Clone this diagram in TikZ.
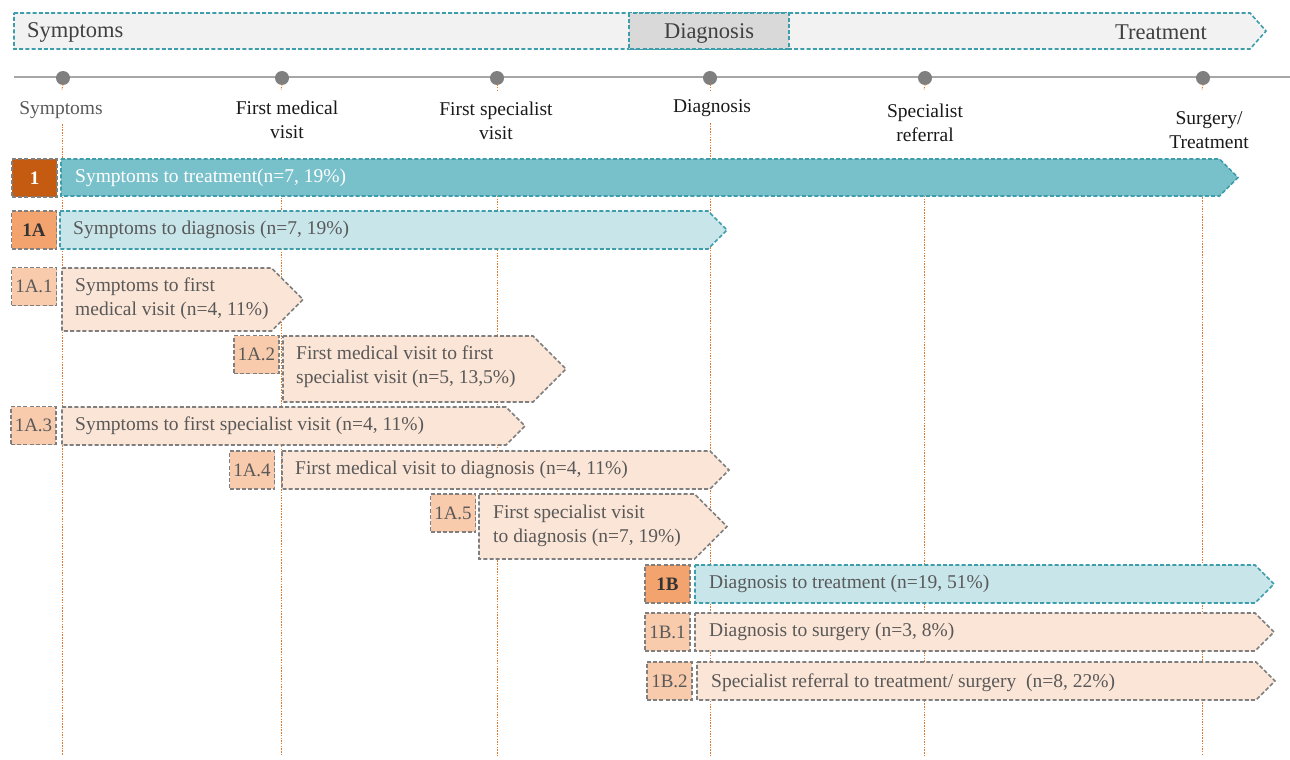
\documentclass[tikz,border=0pt]{standalone}
\usepackage{fontspec}
\setmainfont{Liberation Serif}
\definecolor{teal1}{HTML}{3E9DAA}
\definecolor{tealfill}{HTML}{78C0CA}
\definecolor{tealpale}{HTML}{C8E5EA}
\definecolor{orgdark}{HTML}{C55A11}
\definecolor{orgmid}{HTML}{F3A46E}
\definecolor{orglight}{HTML}{F8CBAD}
\definecolor{orgpale}{HTML}{FBE5D6}
\definecolor{vline}{HTML}{E07A2E}
\definecolor{txtgray}{HTML}{595959}
\definecolor{dotgray}{HTML}{7F7F7F}
\newcommand\chevbar[5]{%
  \path[#1] (#2,#3) -- ({#4-(#5-#3)/2},#3) -- (#4,{(#3+#5)/2}) -- ({#4-(#5-#3)/2},#5) -- (#2,#5) -- cycle;}
\tikzset{
  dsh/.style={dash pattern=on 4pt off 2.2pt, line width=1.6pt},
  tealbar/.style={dsh, draw=teal1, fill=tealfill},
  palebar/.style={dsh, draw=teal1, fill=tealpale},
  orgbar/.style={dsh, draw=dotgray, fill=orgpale},
  lbl/.style={dsh, draw=dotgray, fill=orglight, minimum width=45pt, minimum height=38pt,
    inner sep=0pt, font=\fontsize{19}{22}\selectfont, text=txtgray},
  lblmid/.style={lbl, fill=orgmid, font=\fontsize{19}{22}\selectfont\bfseries, text=black!80},
  lbldark/.style={lbl, fill=orgdark, font=\fontsize{19}{22}\selectfont\bfseries, text=white},
  rowtxt/.style={anchor=west, align=left, inner sep=0pt, font=\fontsize{19.5}{24}\selectfont, text=txtgray},
  axlbl/.style={align=center, inner sep=1pt, font=\fontsize{19.5}{23.5}\selectfont, text=black!90},
  bantxt/.style={inner sep=0pt, font=\rmfamily\fontsize{22.5}{26}\selectfont, text=black!75},
  dot/.style={circle, fill=dotgray, minimum size=14pt, inner sep=0pt},
  vl/.style={vline, line width=1pt, dash pattern=on 1.5pt off 1.2pt},
}
\begin{document}
\begin{tikzpicture}[x=1pt,y=-1pt]
\useasboundingbox (0,0) rectangle (1290,760);
% banner
\path[dsh, draw=teal1, fill=black!5] (14,13) -- (1250,13) -- (1266,31) -- (1250,49) -- (14,49) -- cycle;
\path[dsh, draw=teal1, fill=black!15] (629,13) rectangle (789,49);
\node[bantxt, anchor=west] (bSym) at (27,32) {Symptoms};
\node[bantxt] (bDia) at (709,33) {Diagnosis};
\node[bantxt] (bTre) at (1161,32) {Treatment};
% timeline
\coordinate (tlA) at (14,77);
\coordinate (tlB) at (1290,77);
\draw[black!35, line width=1.3pt] (tlA) -- (tlB);
\foreach \n/\x in {d1/63,d2/282,d3/497,d4/710,d5/925,d6/1203}{\node[dot] (\n) at (\x,78) {};}
% axis labels
\node[axlbl, text=txtgray] (a1) at (61,110) {Symptoms};
\node[axlbl] (a2) at (287,120) {First medical\\visit};
\node[axlbl] (a3) at (496,121) {First specialist\\visit};
\node[axlbl] (a4) at (712,108) {Diagnosis};
\node[axlbl] (a5) at (925,123) {Specialist\\referral};
\node[axlbl] (a6) at (1209,130) {Surgery/\\Treatment};
% vertical dotted lines
\foreach \x/\d/\a/\ys in {62/d1/a1/124,281/d2/a2/157,497/d3/a3/158,710/d4/a4/123,924/d5/a5/158,1202/d6/a6/165}{
  \coordinate (t\d) at (\x,90);
  \coordinate (s\a) at (\x,\ys);
  \coordinate (e\a) at (\x,755);
  \draw[vl] (\d.south) ++(0,-1) -- (t\d);
  \draw[vl] (s\a) -- (e\a);
}
% row 1
\node[lbldark] (l1) at (34.5,178) {1};
\chevbar{tealbar}{61}{159}{1238}{196}
\node[rowtxt, text=white] (r1) at (75,178) {Symptoms to treatment(n=7, 19\%)};
% row 1A
\node[lblmid] (l1A) at (34,230) {1A};
\chevbar{palebar}{60}{211}{727}{249}
\node[rowtxt] (r1A) at (73,230) {Symptoms to diagnosis (n=7, 19\%)};
% row 1A.1
\node[lbl] (l1A1) at (34,286.5) {1A.1};
\chevbar{orgbar}{62}{268}{303}{331}
\node[rowtxt] (r1A1) at (75,299) {Symptoms to first\\medical visit (n=4, 11\%)};
% row 1A.2
\node[lbl] (l1A2) at (256.5,354.5) {1A.2};
\chevbar{orgbar}{283}{336}{566}{402}
\node[rowtxt] (r1A2) at (296,367) {First medical visit to first\\specialist visit (n=5, 13,5\%)};
% row 1A.3
\node[lbl] (l1A3) at (33.5,425.5) {1A.3};
\chevbar{orgbar}{62}{407}{525}{445}
\node[rowtxt] (r1A3) at (75,426) {Symptoms to first specialist visit (n=4, 11\%)};
% row 1A.4
\node[lbl] (l1A4) at (252,470) {1A.4};
\chevbar{orgbar}{282}{451}{729}{489}
\node[rowtxt] (r1A4) at (295,470) {First medical visit to diagnosis (n=4, 11\%)};
% row 1A.5
\node[lbl] (l1A5) at (453,513) {1A.5};
\chevbar{orgbar}{479}{494}{727}{559}
\node[rowtxt] (r1A5) at (493,526) {First specialist visit\\to diagnosis (n=7, 19\%)};
% row 1B
\node[lblmid] (l1B) at (667.5,584) {1B};
\chevbar{palebar}{695}{565}{1274}{603}
\node[rowtxt] (r1B) at (709,584) {Diagnosis to treatment (n=19, 51\%)};
% row 1B.1
\node[lbl] (l1B1) at (667.5,632) {1B.1};
\chevbar{orgbar}{695}{613}{1274}{651}
\node[rowtxt] (r1B1) at (709,632) {Diagnosis to surgery (n=3, 8\%)};
% row 1B.2
\node[lbl] (l1B2) at (669.5,681) {1B.2};
\chevbar{orgbar}{697}{662}{1275}{700}
\node[rowtxt] (r1B2) at (711,683) {Specialist referral to treatment/ surgery\ \ (n=8, 22\%)};
\end{tikzpicture}
\end{document}
